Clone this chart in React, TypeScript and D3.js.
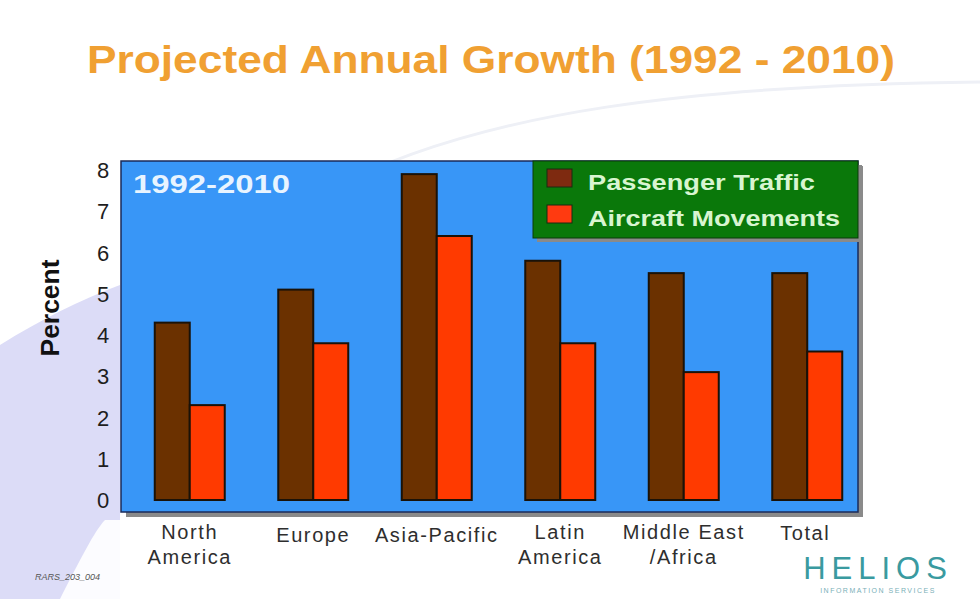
import React from "react";
import * as d3 from "d3";

const categories = ["North America", "Europe", "Asia-Pacific", "Latin America", "Middle East /Africa", "Total"];
const categoryLines = [["North", "America"], ["Europe"], ["Asia-Pacific"], ["Latin", "America"], ["Middle East", "/Africa"], ["Total"]];
const passengerTraffic = [4.3, 5.1, 7.9, 5.8, 5.5, 5.5];
const aircraftMovements = [2.3, 3.8, 6.4, 3.8, 3.1, 3.6];
const seriesNames = ["Passenger Traffic", "Aircraft Movements"];
const yTicks = [0, 1, 2, 3, 4, 5, 6, 7, 8];

const W = 980, H = 599;
const plot = { left: 121, top: 161, right: 858, bottom: 512 };
const colors = ["#6b3100", "#ff3a00"];
const swatchColors = ["#7e2a10", "#ff3a10"];
const legendWidths = [227, 252];

export default function App() {
  const x = d3.scaleBand<string>().domain(categories).range([128, 869]).paddingInner(0).paddingOuter(0);
  const y = d3.scaleLinear().domain([0, 8]).range([500, 170]);
  const barW = 35;
  const series = [passengerTraffic, aircraftMovements];
  return (
    <svg width={W} height={H} style={{ position: "absolute", left: 0, top: 0, background: "#fff" }} fontFamily="Liberation Sans, Arial, sans-serif">
      {/* background decoration */}
      <path d="M0,345 C40,320 80,300 120,285 L120,599 L0,599 Z" fill="#dcdcf7" />
      <path d="M60,599 C80,560 95,530 105,520 L120,520 L120,599 Z" fill="#ffffff" opacity={0.9} />
      <path d="M330,190 C480,110 700,85 980,82" fill="none" stroke="#eef0f6" strokeWidth={3} />
      {/* title */}
      <text x={87} y={73} fontSize={38} fontWeight="bold" fill="#f0a032" textLength={808} lengthAdjust="spacingAndGlyphs">Projected Annual Growth (1992 - 2010)</text>
      {/* plot shadow */}
      <rect x={plot.left + 5} y={plot.top + 5} width={plot.right - plot.left} height={plot.bottom - plot.top} fill="#8a8a8a" />
      <rect x={plot.left} y={plot.top} width={plot.right - plot.left} height={plot.bottom - plot.top} fill="#3896f7" stroke="#1a2a5a" strokeWidth={1.5} />
      <text x={133} y={193} fontSize={26} fontWeight="bold" fill="#e8f4ff" textLength={157} lengthAdjust="spacingAndGlyphs">1992-2010</text>
      {/* bars */}
      {categories.map((c, i) => {
        const cx = (x(c) as number) + x.bandwidth() / 2;
        return series.map((s, j) => (
          <rect key={c + j} x={cx - barW + j * barW} y={y(s[i])} width={barW} height={y(0) - y(s[i])}
            fill={colors[j]} stroke="#1a1208" strokeWidth={2} />
        ));
      })}
      {/* y axis */}
      {yTicks.map((t) => (
        <text key={t} x={103} y={y(t) + 8} textAnchor="middle" fontSize={22} fill="#1e1e1e">{t}</text>
      ))}
      <text transform="translate(59,308) rotate(-90)" textAnchor="middle" fontSize={25} fontWeight="bold" fill="#111" textLength={97} lengthAdjust="spacingAndGlyphs">Percent</text>
      {/* x labels */}
      {categories.map((c, i) => {
        const cx = (x(c) as number) + x.bandwidth() / 2;
        const lines = categoryLines[i];
        return lines.map((l, k) => (
          <text key={c + k} x={cx + (i === 5 ? -2 : 0)} y={(lines.length === 1 ? (i === 5 ? 540 : 542) : 539) + k * 25}
            textAnchor="middle" fontSize={20} letterSpacing={1.6} fill="#2e2e2e">{l}</text>
        ));
      })}
      {/* legend */}
      <rect x={537} y={165} width={325} height={77} fill="#8a8a8a" />
      <rect x={533} y={161} width={325} height={77} fill="#0a780a" stroke="#0a3a0a" strokeWidth={1} />
      {seriesNames.map((n, j) => (
        <g key={n}>
          <rect x={547} y={169 + j * 36} width={25} height={18} fill={swatchColors[j]} stroke="#1a2a10" strokeWidth={1} />
          <text x={588} y={190 + j * 36} fontSize={22} fontWeight="bold" fill="#d8f5d0" textLength={legendWidths[j]} lengthAdjust="spacingAndGlyphs">{n}</text>
        </g>
      ))}
      {/* footer */}
      <text x={35} y={580} fontSize={9} fontStyle="italic" fill="#555">RARS_203_004</text>
      <text x={878} y={579} textAnchor="middle" fontSize={31} fill="#3a9aa0" letterSpacing={6}>HELIOS</text>
      <text x={878} y={593} textAnchor="middle" fontSize={7} fill="#7ab0b8" letterSpacing={1.5}>INFORMATION SERVICES</text>
    </svg>
  );
}
